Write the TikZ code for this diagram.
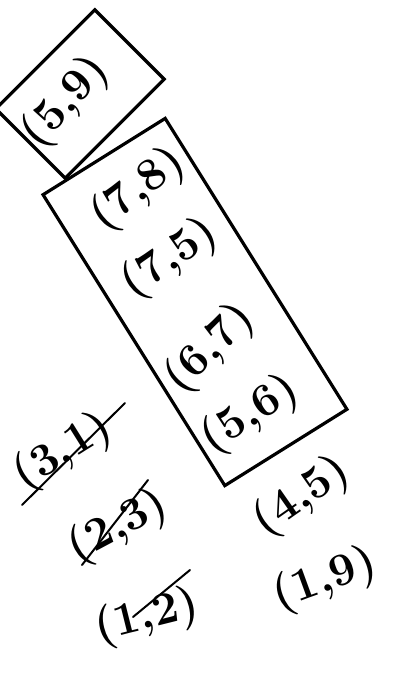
\documentclass[tikz,border=0pt]{standalone}
\usepackage{xcolor}
\usepackage{tikz}
\usetikzlibrary{shapes.geometric, positioning}
\tikzstyle{pair} = [font=\fontsize{46}{50}\selectfont\bfseries, inner sep=0pt, text=black]
\tikzstyle{stack} = [rectangle, draw=black, line width=3.2pt, inner sep=0pt]
\tikzstyle{strike} = [draw=black, line width=2pt, line cap=round]

\begin{document}
\begin{tikzpicture}[x=1pt, y=-1pt]
    \useasboundingbox (0,0) rectangle (394,673);

    % boxes
    \node (topbox) [stack, minimum width=98pt, minimum height=140pt, rotate=-45] at (80,94) {};
    \node (mainbox) [stack, minimum width=343pt, minimum height=144pt, rotate=-58] at (195,302) {};

    % pairs in the boxes
    \node (p59) [pair, rotate=48] at (66,102) {(5,9)};
    \node (p78) [pair, rotate=38] at (138,190) {(7,8)};
    \node (p75) [pair, rotate=35] at (170,259) {(7,5)};
    \node (p67) [pair, rotate=45] at (210,349) {(6,7)};
    \node (p56) [pair, rotate=33] at (250,415) {(5,6)};

    % pairs below
    \node (p45) [pair, rotate=35] at (302,497) {(4,5)};
    \node (p19) [pair, rotate=20] at (325,580) {(1,9)};

    % crossed out
    \node (p31) [pair, rotate=32] at (63,452) {(3,1)};
    \node (p23) [pair, rotate=28] at (118,527) {(2,3)};
    \node (p12) [pair, rotate=14] at (147,617) {(1,2)};

    \coordinate (s31a) at (22,505);
    \coordinate (s31b) at (125,403);
    \coordinate (s23a) at (82,565);
    \coordinate (s23b) at (148,480);
    \coordinate (s12a) at (133,617);
    \coordinate (s12b) at (190,570);
    \draw [strike] (s31a) -- (s31b);
    \draw [strike] (s23a) -- (s23b);
    \draw [strike] (s12a) -- (s12b);
\end{tikzpicture}
\end{document}
